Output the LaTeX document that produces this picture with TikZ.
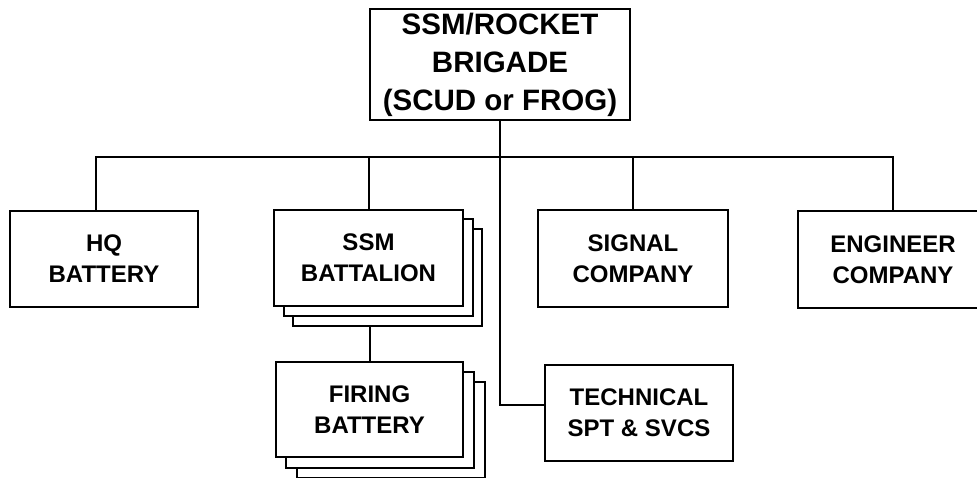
\documentclass[tikz,border=0pt]{standalone}
\usepackage{fontspec}
\setmainfont{Liberation Sans}
\begin{document}
\begin{tikzpicture}[x=1pt,y=-1pt,
  box/.style={draw=black, line width=2pt, fill=white, inner sep=0pt, align=center,
    font=\bfseries\fontsize{24}{31}\selectfont},
  topbox/.style={box, font=\bfseries\fontsize{29.5}{38}\selectfont},
  link/.style={draw=black, line width=2pt}]
\useasboundingbox (0,0) rectangle (977,478);
% top
\node[topbox, minimum width=260pt, minimum height=111pt] (top) at (500,64.5) {SSM/ROCKET\\BRIGADE\\(SCUD or FROG)};
% second level
\node[box, minimum width=188pt, minimum height=96pt] (hq) at (104,259) {HQ\\BATTERY};
\node[box, minimum width=189pt, minimum height=97pt] (ssmB) at (387.5,277.5) {};
\node[box, minimum width=189pt, minimum height=97pt] (ssmA) at (378,267.5) {};
\node[box, minimum width=189pt, minimum height=96pt] (ssm) at (368.5,258) {SSM\\BATTALION};
\node[box, minimum width=190pt, minimum height=97pt] (signal) at (633,258.5) {SIGNAL\\COMPANY};
\node[box, minimum width=190pt, minimum height=97pt] (eng) at (893,259.5) {ENGINEER\\COMPANY};
% third level
\node[box, minimum width=188pt, minimum height=96pt] (fireB) at (391,430) {};
\node[box, minimum width=188pt, minimum height=96pt] (fireA) at (380,420) {};
\node[box, minimum width=187pt, minimum height=95pt] (fire) at (369.5,409.5) {FIRING\\BATTERY};
\node[box, minimum width=188pt, minimum height=96pt] (tech) at (639,413) {TECHNICAL\\SPT \& SVCS};
% connectors
\coordinate (busL) at (96,157);
\coordinate (busR) at (893,157);
\coordinate (turn) at (500,405);
\draw[link] (busL |- hq.north) -- (busL) -- (busR) -- (eng.north);
\draw[link] (ssm.north |- busL) -- (ssm.north);
\draw[link] (signal.north |- busL) -- (signal.north);
\draw[link] (top.south) -- (turn) -- (turn -| tech.west);
\draw[link] (ssmB.south -| fire.north) -- (fire.north);
\end{tikzpicture}
\end{document}
